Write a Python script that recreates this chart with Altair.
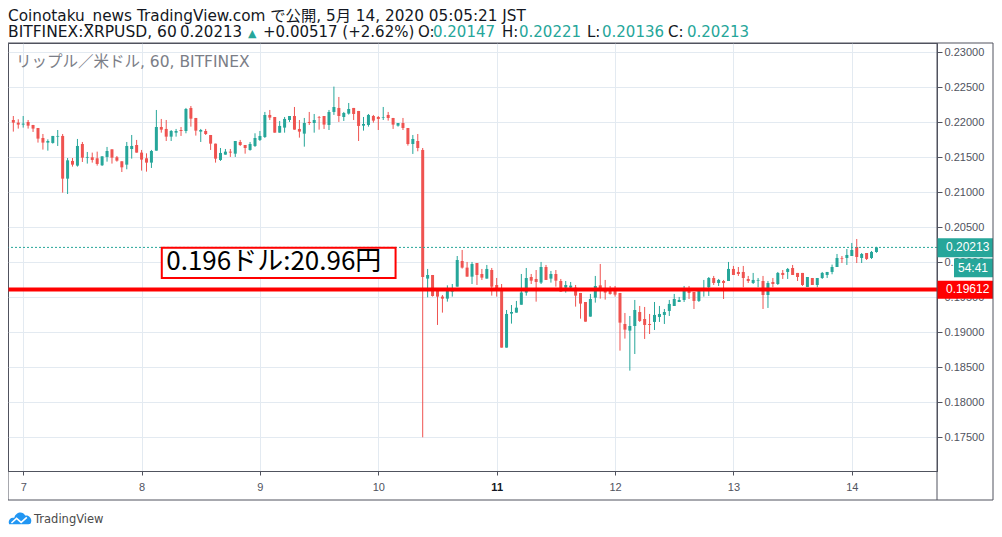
import altair as alt
import pandas as pd

# ---------------- data ----------------
hours = list(range(-2, 174))  # hourly candles, 0 = May 7 00:00 JST

opens = [0.22033, 0.21995, 0.21967, 0.22005, 0.21962, 0.21919, 0.21776, 0.2171, 0.21705, 0.21795,
         0.21805, 0.21195, 0.21448, 0.21381, 0.2169, 0.21495, 0.215, 0.21486, 0.21386, 0.21505,
         0.21614, 0.215, 0.21443, 0.21395, 0.21619, 0.21676, 0.21567, 0.21486, 0.21424, 0.21595,
         0.21933, 0.21905, 0.21795, 0.21852, 0.2189, 0.21876, 0.22205, 0.22062, 0.21867, 0.21876,
         0.21819, 0.21695, 0.21462, 0.21538, 0.21581, 0.21552, 0.21719, 0.21676, 0.21605, 0.21662,
         0.21748, 0.2179, 0.22105, 0.22076, 0.21852, 0.21924, 0.22033, 0.2209, 0.21905, 0.21838,
         0.22005, 0.2199, 0.22076, 0.2209, 0.21962, 0.22148, 0.22205, 0.22076, 0.22124, 0.22205,
         0.22162, 0.21952, 0.21962, 0.2209, 0.22076, 0.22067, 0.22105, 0.22062, 0.21952, 0.2199,
         0.21919, 0.2169, 0.21733, 0.21605, 0.19767, 0.19819, 0.19605, 0.1951, 0.19481, 0.19581,
         0.19652, 0.20019, 0.19924, 0.19795, 0.1999, 0.19833, 0.19767, 0.1989, 0.19676, 0.19595,
         0.18781, 0.19267, 0.19281, 0.19395, 0.19567, 0.1979, 0.19762, 0.1971, 0.19933, 0.19767,
         0.19833, 0.19733, 0.19638, 0.19638, 0.19638, 0.19562, 0.19433, 0.19224, 0.19495, 0.19671,
         0.19614, 0.19605, 0.19605, 0.19562, 0.19119, 0.19024, 0.1909, 0.1929, 0.1919, 0.19119,
         0.19148, 0.19219, 0.19248, 0.19305, 0.19376, 0.19433, 0.19462, 0.19605, 0.19576, 0.19448,
         0.19605, 0.19643, 0.19776, 0.19705, 0.19733, 0.19733, 0.19905, 0.19862, 0.19862, 0.19762,
         0.19705, 0.19738, 0.19733, 0.19533, 0.19719, 0.1969, 0.19848, 0.19862, 0.19919, 0.19848,
         0.19848, 0.19648, 0.19776, 0.19676, 0.19776, 0.19819, 0.19862, 0.19933, 0.20062, 0.20062,
         0.2009, 0.20219, 0.20062, 0.20133, 0.20062, 0.20147]
highs = [0.2209, 0.22043, 0.2209, 0.22033, 0.21962, 0.21919, 0.21833, 0.21757, 0.21805, 0.2189,
         0.21833, 0.2149, 0.2149, 0.21762, 0.21719, 0.21576, 0.21567, 0.21581, 0.21514, 0.21648,
         0.21614, 0.21519, 0.21443, 0.21719, 0.21819, 0.21748, 0.21605, 0.21557, 0.21605, 0.22176,
         0.22048, 0.22033, 0.2189, 0.21905, 0.21933, 0.22205, 0.22233, 0.22062, 0.21905, 0.21905,
         0.21819, 0.21695, 0.21633, 0.21619, 0.21619, 0.21733, 0.21748, 0.21676, 0.21719, 0.21843,
         0.21876, 0.22148, 0.22176, 0.22076, 0.22019, 0.22076, 0.2209, 0.22219, 0.22033, 0.22062,
         0.22148, 0.22119, 0.2209, 0.2209, 0.22176, 0.2251, 0.22362, 0.22148, 0.22276, 0.22205,
         0.22162, 0.22076, 0.22119, 0.22105, 0.2209, 0.22219, 0.22148, 0.22062, 0.2199, 0.22062,
         0.21919, 0.21819, 0.21833, 0.21633, 0.19905, 0.19819, 0.19605, 0.19533, 0.19671, 0.1969,
         0.2009, 0.20176, 0.20005, 0.20005, 0.1999, 0.19905, 0.19962, 0.19919, 0.19776, 0.1969,
         0.19319, 0.1939, 0.19448, 0.19833, 0.19919, 0.19833, 0.1989, 0.20005, 0.19962, 0.19876,
         0.1989, 0.19762, 0.19733, 0.19719, 0.19676, 0.19562, 0.19433, 0.19548, 0.19805, 0.19976,
         0.19748, 0.19662, 0.19662, 0.19562, 0.19276, 0.19233, 0.19462, 0.19376, 0.19362, 0.19262,
         0.19433, 0.19376, 0.19333, 0.19462, 0.19548, 0.19505, 0.19662, 0.19662, 0.19576, 0.19605,
         0.19748, 0.1979, 0.19805, 0.19762, 0.19748, 0.20005, 0.19948, 0.19933, 0.19948, 0.19805,
         0.19848, 0.19776, 0.19805, 0.19733, 0.19776, 0.19862, 0.1989, 0.19919, 0.19962, 0.19848,
         0.19848, 0.1979, 0.19776, 0.19776, 0.19862, 0.19862, 0.19967, 0.20119, 0.2009, 0.2019,
         0.20276, 0.20333, 0.20133, 0.20133, 0.20162, 0.20221]
lows = [0.21867, 0.2191, 0.21924, 0.2191, 0.21862, 0.2171, 0.2161, 0.21595, 0.21695, 0.21662,
        0.20995, 0.20976, 0.21367, 0.21367, 0.21433, 0.2141, 0.21424, 0.21381, 0.21376, 0.21438,
        0.2141, 0.21438, 0.2129, 0.21329, 0.21481, 0.21567, 0.2131, 0.21295, 0.21348, 0.21595,
        0.21852, 0.21733, 0.21733, 0.21795, 0.21805, 0.21843, 0.21938, 0.2181, 0.21719, 0.21819,
        0.21605, 0.21424, 0.21448, 0.21538, 0.21505, 0.21505, 0.21662, 0.21552, 0.21595, 0.21648,
        0.21733, 0.21776, 0.22033, 0.21852, 0.21852, 0.21852, 0.22005, 0.21895, 0.21781, 0.21652,
        0.21962, 0.21852, 0.21895, 0.21905, 0.2189, 0.22105, 0.22005, 0.22019, 0.2211, 0.22033,
        0.21733, 0.21881, 0.21938, 0.21995, 0.2189, 0.22033, 0.22024, 0.21905, 0.21938, 0.2189,
        0.21667, 0.21548, 0.21586, 0.1750, 0.195, 0.1951, 0.19105, 0.19281, 0.19438, 0.1951,
        0.19652, 0.1991, 0.19795, 0.1969, 0.19676, 0.19748, 0.19767, 0.19524, 0.1951, 0.18781,
        0.18781, 0.19124, 0.19281, 0.19395, 0.19524, 0.1969, 0.19438, 0.1969, 0.19748, 0.1971,
        0.19652, 0.19581, 0.19567, 0.19624, 0.19367, 0.19195, 0.19152, 0.19224, 0.19424, 0.19481,
        0.19467, 0.19538, 0.1951, 0.18738, 0.1891, 0.18452, 0.1869, 0.19148, 0.18905, 0.18976,
        0.19033, 0.19148, 0.19119, 0.19233, 0.19376, 0.19433, 0.19433, 0.19476, 0.19333, 0.19433,
        0.1951, 0.19519, 0.19676, 0.19662, 0.19476, 0.19733, 0.19819, 0.19805, 0.19643, 0.19705,
        0.1969, 0.19643, 0.19333, 0.19348, 0.19643, 0.19676, 0.19762, 0.19762, 0.19819, 0.19733,
        0.19662, 0.19648, 0.19676, 0.19643, 0.19762, 0.19776, 0.19829, 0.19933, 0.1999, 0.19962,
        0.2009, 0.1999, 0.1999, 0.20033, 0.20048, 0.20136]
closes = [0.21995, 0.21967, 0.21981, 0.21952, 0.2191, 0.21767, 0.2171, 0.21733, 0.21805, 0.21805,
          0.21195, 0.21457, 0.21395, 0.21662, 0.21495, 0.21505, 0.21462, 0.21405, 0.21514, 0.2159,
          0.21495, 0.21452, 0.21357, 0.21662, 0.21662, 0.21567, 0.21467, 0.21424, 0.2159, 0.21933,
          0.21895, 0.21795, 0.21876, 0.21876, 0.21876, 0.2219, 0.22052, 0.21881, 0.2189, 0.21833,
          0.21695, 0.21481, 0.21562, 0.21581, 0.21567, 0.21733, 0.21676, 0.21633, 0.2169, 0.21776,
          0.21805, 0.22105, 0.22067, 0.21852, 0.21948, 0.22048, 0.2209, 0.21895, 0.21867, 0.2199,
          0.2199, 0.22033, 0.22067, 0.21967, 0.22148, 0.22219, 0.2209, 0.22133, 0.2219, 0.22119,
          0.21948, 0.21976, 0.22105, 0.22024, 0.22048, 0.22076, 0.22062, 0.21967, 0.2199, 0.21919,
          0.2169, 0.21762, 0.21633, 0.1979, 0.19819, 0.19519, 0.1951, 0.19481, 0.19605, 0.19629,
          0.20033, 0.19924, 0.19795, 0.19976, 0.19819, 0.19781, 0.19905, 0.19652, 0.19619, 0.18781,
          0.19262, 0.1929, 0.19352, 0.19567, 0.19776, 0.19738, 0.19719, 0.19933, 0.19748, 0.19833,
          0.19738, 0.19581, 0.19676, 0.19667, 0.19524, 0.1941, 0.19152, 0.19476, 0.19662, 0.19595,
          0.19567, 0.19548, 0.19538, 0.19138, 0.19038, 0.1909, 0.19319, 0.19162, 0.19105, 0.19105,
          0.19248, 0.19262, 0.1929, 0.19405, 0.19476, 0.19462, 0.1959, 0.19562, 0.19448, 0.1959,
          0.19629, 0.19776, 0.19705, 0.19748, 0.19705, 0.19905, 0.19819, 0.19833, 0.19776, 0.19733,
          0.19748, 0.19748, 0.19533, 0.19705, 0.1969, 0.19848, 0.19819, 0.19905, 0.19819, 0.1979,
          0.19676, 0.1979, 0.19676, 0.19776, 0.19848, 0.19862, 0.19933, 0.20062, 0.20052, 0.20105,
          0.20176, 0.20076, 0.20119, 0.20048, 0.20148, 0.20213]

day_ticks = [0, 24, 48, 72, 96, 120, 144, 168]
day_labels = ["7", "8", "9", "10", "11", "12", "13", "14"]
y_ticks = [0.175, 0.18, 0.185, 0.19, 0.195, 0.2, 0.205, 0.21, 0.215, 0.22, 0.225, 0.23]

level_price = 0.19612
level_label = "0.19612"
last_label = "0.20213"
countdown = "54:41"
note_text = "0.196ドル:20.96円"
note_box = {"h1": 28.1, "h2": 75.5, "p1": 0.20209, "p2": 0.19776, "tx": 29.0, "ty": 0.1989}

title1 = "Coinotaku_news TradingView.com で公開, 5月 14, 2020 05:05:21 JST"
header2 = [
    ("BITFINEX:XRPUSD, 60", 0, "#131722", 15.5),
    ("0.20213", 172, "#131722", 15),
    ("▲", 240, "#26a69a", 11),
    ("+0.00517 (+2.62%)", 255, "#131722", 15),
    ("O:", 410, "#131722", 15),
    ("0.20147", 425, "#26a69a", 15),
    ("H:", 494, "#131722", 15),
    ("0.20221", 511, "#26a69a", 15),
    ("L:", 579, "#131722", 15),
    ("0.20136", 594, "#26a69a", 15),
    ("C:", 660, "#131722", 15),
    ("0.20213", 679, "#26a69a", 15),
]
watermark = "リップル／米ドル, 60, BITFINEX"

# ---------------- styling ----------------
GREEN = "#26a69a"
RED = "#ef5350"
GRID = "#e3eaf1"
FRAME = "#50535e"
TXT = "#50535e"
HFONT = "'DejaVu Sans', 'Noto Sans CJK JP'"
AFONT = "Liberation Sans"

df = pd.DataFrame({"h": hours, "open": opens, "high": highs, "low": lows, "close": closes})
df["dir"] = ["up" if c >= o else "down" for o, c in zip(opens, closes)]

W, H = 929, 428
RIGHT = 985  # outer frame right edge (plot coords)
x_scale = alt.Scale(domain=[-2.066, 184.26], nice=False, zero=False)
y_scale = alt.Scale(domain=[0.170186, 0.231329], nice=False, zero=False)
label_expr = "[" + ",".join("'%s'" % d for d in day_labels) + "][round(datum.value/24)]"

x_axis = alt.Axis(values=day_ticks, labelExpr=label_expr, title=None, grid=True, gridColor=GRID,
                  domainColor=FRAME, tickColor=FRAME, tickSize=4, labelPadding=6,
                  labelFont=AFONT, labelFontSize=11, labelFlush=False,
                  labelColor={"condition": {"test": "datum.value == 96", "value": "#131722"}, "value": TXT},
                  labelFontWeight={"condition": {"test": "datum.value == 96", "value": "bold"}, "value": "normal"})
y_axis = alt.Axis(orient="right", values=y_ticks, format=".5f", title=None, grid=True, gridColor=GRID,
                  domainColor=FRAME, tickColor=FRAME, tickSize=5, labelPadding=2,
                  labelFont=AFONT, labelFontSize=11, labelColor=TXT, labelOverlap=False)


def X(f):
    return alt.X(f, type="quantitative", scale=x_scale, axis=x_axis)


def Y(f):
    return alt.Y(f, type="quantitative", scale=y_scale, axis=y_axis)


col = alt.Color("dir:N", scale=alt.Scale(domain=["up", "down"], range=[GREEN, RED]), legend=None)

wicks = alt.Chart(df).mark_rule(strokeWidth=1).encode(x=X("h"), y=Y("low"), y2="high", color=col)
bodies = alt.Chart(df).mark_bar(size=3).encode(x=X("h"), y=Y("open"), y2="close", color=col)

last_df = pd.DataFrame({"p": [closes[-1]]})
dotted = alt.Chart(last_df).mark_rule(color=GREEN, strokeWidth=1, strokeDash=[2, 2]).encode(y=Y("p"))

lvl_df = pd.DataFrame({"p": [level_price]})
red_line = alt.Chart(lvl_df).mark_rule(color="#ff0000", strokeWidth=4).encode(y=Y("p"))

nb = pd.DataFrame([note_box])
note_rect = alt.Chart(nb).mark_rect(fill="white", stroke="#ff0000", strokeWidth=2).encode(
    x=X("h1"), x2="h2", y=Y("p1"), y2="p2")
note_txt = alt.Chart(nb).mark_text(text=note_text, align="left", baseline="alphabetic",
                                   font="Noto Sans CJK JP", fontSize=26, color="black").encode(
    x=X("tx"), y=Y("ty"))

# right-axis price boxes
box_df = pd.DataFrame({
    "top": [closes[-1] + 0.00129, closes[-1] - 0.00157, level_price + 0.00124],
    "bot": [closes[-1] - 0.00142, closes[-1] - 0.00428, level_price - 0.00133],
    "mid": [closes[-1], closes[-1] - 0.00292, level_price],
    "x0": [929, 946, 929],
    "tx": [938, 950, 938],
    "label": [last_label, countdown, level_label],
    "fill": [GREEN, GREEN, "#ff0000"],
})
boxes = alt.Chart(box_df).mark_rect().encode(
    x=alt.X("x0:Q", scale=None), x2=alt.value(RIGHT), y=Y("top"), y2="bot",
    color=alt.Color("fill:N", scale=None))
box_txt = alt.Chart(box_df).mark_text(align="left", baseline="middle", font=AFONT, fontSize=12,
                                      color="white").encode(
    x=alt.X("tx:Q", scale=None), y=Y("mid"), text="label:N")

# frame
frame = alt.Chart(last_df).mark_rect(fillOpacity=0, stroke=FRAME, strokeWidth=1).encode(
    x=alt.value(0), x2=alt.value(RIGHT), y=alt.value(0), y2=alt.value(457))
axis_sep = alt.Chart(last_df).mark_rule(color=FRAME, strokeWidth=1).encode(
    x=alt.value(929), y=alt.value(0), y2=alt.value(457))

# header / watermark / logo text
t1 = alt.Chart(last_df).mark_text(text=title1, align="left", baseline="alphabetic", font=HFONT,
                                  fontSize=15.3, color="#131722").encode(x=alt.value(0), y=alt.value(-22))
h2_df = pd.DataFrame(header2, columns=["txt", "px", "c", "fs"])
t2 = alt.Chart(h2_df).mark_text(align="left", baseline="alphabetic", font=HFONT).encode(
    x=alt.X("px:Q", scale=None), y=alt.value(-6), text="txt:N",
    color=alt.Color("c:N", scale=None), size=alt.Size("fs:Q", scale=None))
wm = alt.Chart(last_df).mark_text(text=watermark, align="left", baseline="middle", font=HFONT,
                                  fontSize=15.5, color="#7b7e87").encode(x=alt.value(8), y=alt.value(19))

cloud = alt.Chart(last_df).mark_point(
    shape="M-0.95,0.45 C-1.1,0.1 -0.8,-0.2 -0.5,-0.1 C-0.4,-0.6 0.25,-0.75 0.45,-0.3 C0.8,-0.4 1.1,0 0.95,0.35 C0.9,0.45 0.8,0.45 0.75,0.45 Z",
    filled=True, color="#2196f3", opacity=1, size=520).encode(x=alt.value(12), y=alt.value(476))
zig = alt.Chart(last_df).mark_point(
    shape="M-0.75,0.35 L-0.3,-0.05 L0.1,0.3 L0.6,-0.15",
    filled=False, color="white", strokeWidth=1.6, opacity=1, size=520).encode(x=alt.value(12), y=alt.value(476))
logo_txt = alt.Chart(last_df).mark_text(text="TradingView", align="left", baseline="middle", font="DejaVu Sans",
                                        fontSize=11.5, color="#4a4a4a").encode(x=alt.value(26), y=alt.value(477))

chart = alt.layer(
    wicks, bodies, dotted, red_line, note_rect, note_txt, boxes, box_txt,
    frame, axis_sep, t1, t2, wm, cloud, zig, logo_txt
).properties(
    width=W, height=H,
    autosize=alt.AutoSizeParams(type="none"),
    padding={"left": 0, "top": 35, "right": 57, "bottom": 55},
    background="white",
).configure_view(stroke=FRAME, strokeWidth=1)

chart.save("out.html", embed_options={"renderer": "svg", "actions": False})
